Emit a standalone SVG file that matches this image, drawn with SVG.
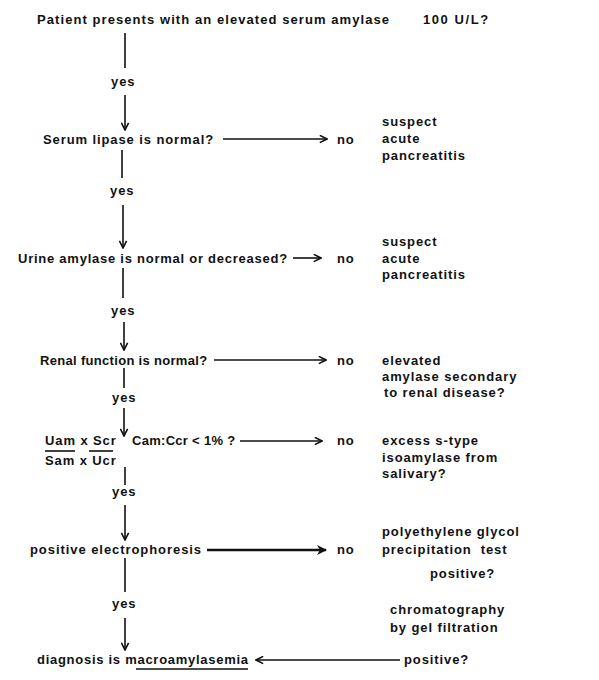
<svg xmlns="http://www.w3.org/2000/svg" width="599" height="680" viewBox="0 0 599 680">
<style>
.t{font-family:"Liberation Sans",Arial,sans-serif;font-weight:bold;font-size:13px;letter-spacing:0.9px;fill:#111}
.ln{stroke:#111;stroke-width:1.6;fill:none}
.thin{stroke:#111;stroke-width:1.3;fill:none}
.thick{stroke:#111;stroke-width:2.6;fill:none}
</style>
<defs>
<marker id="ah" viewBox="0 0 10 10" refX="9" refY="5" markerWidth="9" markerHeight="9" orient="auto" markerUnits="userSpaceOnUse">
<path d="M1,1 L9,5 L1,9" fill="none" stroke="#111" stroke-width="1.8"/>
</marker>
<marker id="ahf" viewBox="0 0 10 10" refX="9" refY="5" markerWidth="10" markerHeight="10" orient="auto" markerUnits="userSpaceOnUse">
<path d="M0,0 L10,5 L0,10 L3,5 Z" fill="#111"/>
</marker>
</defs>
<rect width="599" height="680" fill="#fff"/>

<g id="connectors">
<line class="ln" x1="125" y1="33" x2="125" y2="68"/>
<line class="ln" x1="125" y1="95" x2="125" y2="130" marker-end="url(#ah)"/>
<line class="ln" x1="223" y1="139" x2="327" y2="139" marker-end="url(#ah)"/>
<line class="ln" x1="122" y1="150" x2="122" y2="178"/>
<line class="ln" x1="123" y1="205" x2="123" y2="248" marker-end="url(#ah)"/>
<line class="ln" x1="293" y1="258" x2="321" y2="258" marker-end="url(#ah)"/>
<line class="ln" x1="123" y1="268" x2="123" y2="298"/>
<line class="ln" x1="124" y1="322" x2="124" y2="350" marker-end="url(#ah)"/>
<line class="ln" x1="214" y1="360" x2="326" y2="360" marker-end="url(#ah)"/>
<line class="ln" x1="124" y1="368" x2="124" y2="388"/>
<line class="ln" x1="124" y1="408" x2="124" y2="436" marker-end="url(#ah)"/>
<line class="thin" x1="240" y1="441" x2="322" y2="441" marker-end="url(#ah)"/>
<line class="ln" x1="125" y1="467" x2="125" y2="485"/>
<line class="ln" x1="125" y1="505" x2="125" y2="540" marker-end="url(#ah)"/>
<line class="thick" x1="207" y1="550" x2="326" y2="550" marker-end="url(#ahf)"/>
<line class="ln" x1="125" y1="558" x2="125" y2="592"/>
<line class="ln" x1="125" y1="618" x2="125" y2="650" marker-end="url(#ah)"/>
<line class="ln" x1="400" y1="660" x2="256" y2="660" marker-end="url(#ah)"/>
</g>

<g id="n-start"><text class="t" x="37" y="24" textLength="353">Patient presents with an elevated serum amylase</text><text class="t" x="423" y="24" textLength="66">100 U/L?</text></g>
<g id="yes1"><text class="t" x="111" y="86">yes</text></g>
<g id="n-lipase"><text class="t" x="43" y="144" textLength="171">Serum lipase is normal?</text></g>
<g id="no1"><text class="t" x="337" y="144">no</text></g>
<g id="r-pancreatitis1"><text class="t" x="382" y="126">suspect</text><text class="t" x="382" y="143">acute</text><text class="t" x="382" y="160">pancreatitis</text></g>
<g id="yes2"><text class="t" x="110" y="195">yes</text></g>
<g id="n-urine"><text class="t" x="18" y="263" textLength="270">Urine amylase is normal or decreased?</text></g>
<g id="no2"><text class="t" x="337" y="263">no</text></g>
<g id="r-pancreatitis2"><text class="t" x="382" y="246">suspect</text><text class="t" x="382" y="263">acute</text><text class="t" x="382" y="279">pancreatitis</text></g>
<g id="yes3"><text class="t" x="111" y="315">yes</text></g>
<g id="n-renal"><text class="t" x="40" y="365" textLength="168">Renal function is normal?</text></g>
<g id="no3"><text class="t" x="337" y="365">no</text></g>
<g id="r-renal"><text class="t" x="382" y="365">elevated</text><text class="t" x="382" y="381">amylase secondary</text><text class="t" x="384" y="397">to renal disease?</text></g>
<g id="yes4"><text class="t" x="112" y="402">yes</text></g>
<g id="n-ratio">
<text class="t" x="45" y="445">Uam x Scr</text>
<line class="ln" x1="45" y1="451" x2="75" y2="451"/>
<line class="ln" x1="89" y1="451" x2="113" y2="451"/>
<text class="t" x="45" y="465">Sam x Ucr</text>
<text class="t" x="132" y="445" textLength="104">Cam:Ccr &lt; 1% ?</text>
</g>
<g id="no4"><text class="t" x="337" y="445">no</text></g>
<g id="r-salivary"><text class="t" x="382" y="445">excess s-type</text><text class="t" x="382" y="462">isoamylase from</text><text class="t" x="382" y="478">salivary?</text></g>
<g id="yes5"><text class="t" x="112" y="496">yes</text></g>
<g id="n-electro"><text class="t" x="30" y="554" textLength="172">positive electrophoresis</text></g>
<g id="no5"><text class="t" x="337" y="554">no</text></g>
<g id="r-peg"><text class="t" x="382" y="536">polyethylene glycol</text><text class="t" x="382" y="554" xml:space="preserve">precipitation  test</text></g>
<g id="r-pos1"><text class="t" x="430" y="578">positive?</text></g>
<g id="yes6"><text class="t" x="112" y="608">yes</text></g>
<g id="r-chrom"><text class="t" x="390" y="614">chromatography</text><text class="t" x="390" y="632">by gel filtration</text></g>
<g id="n-diagnosis"><text class="t" x="37" y="664" textLength="212">diagnosis is macroamylasemia</text><line class="ln" x1="136" y1="669" x2="248" y2="669"/></g>
<g id="r-pos2"><text class="t" x="404" y="664">positive?</text></g>
</svg>
